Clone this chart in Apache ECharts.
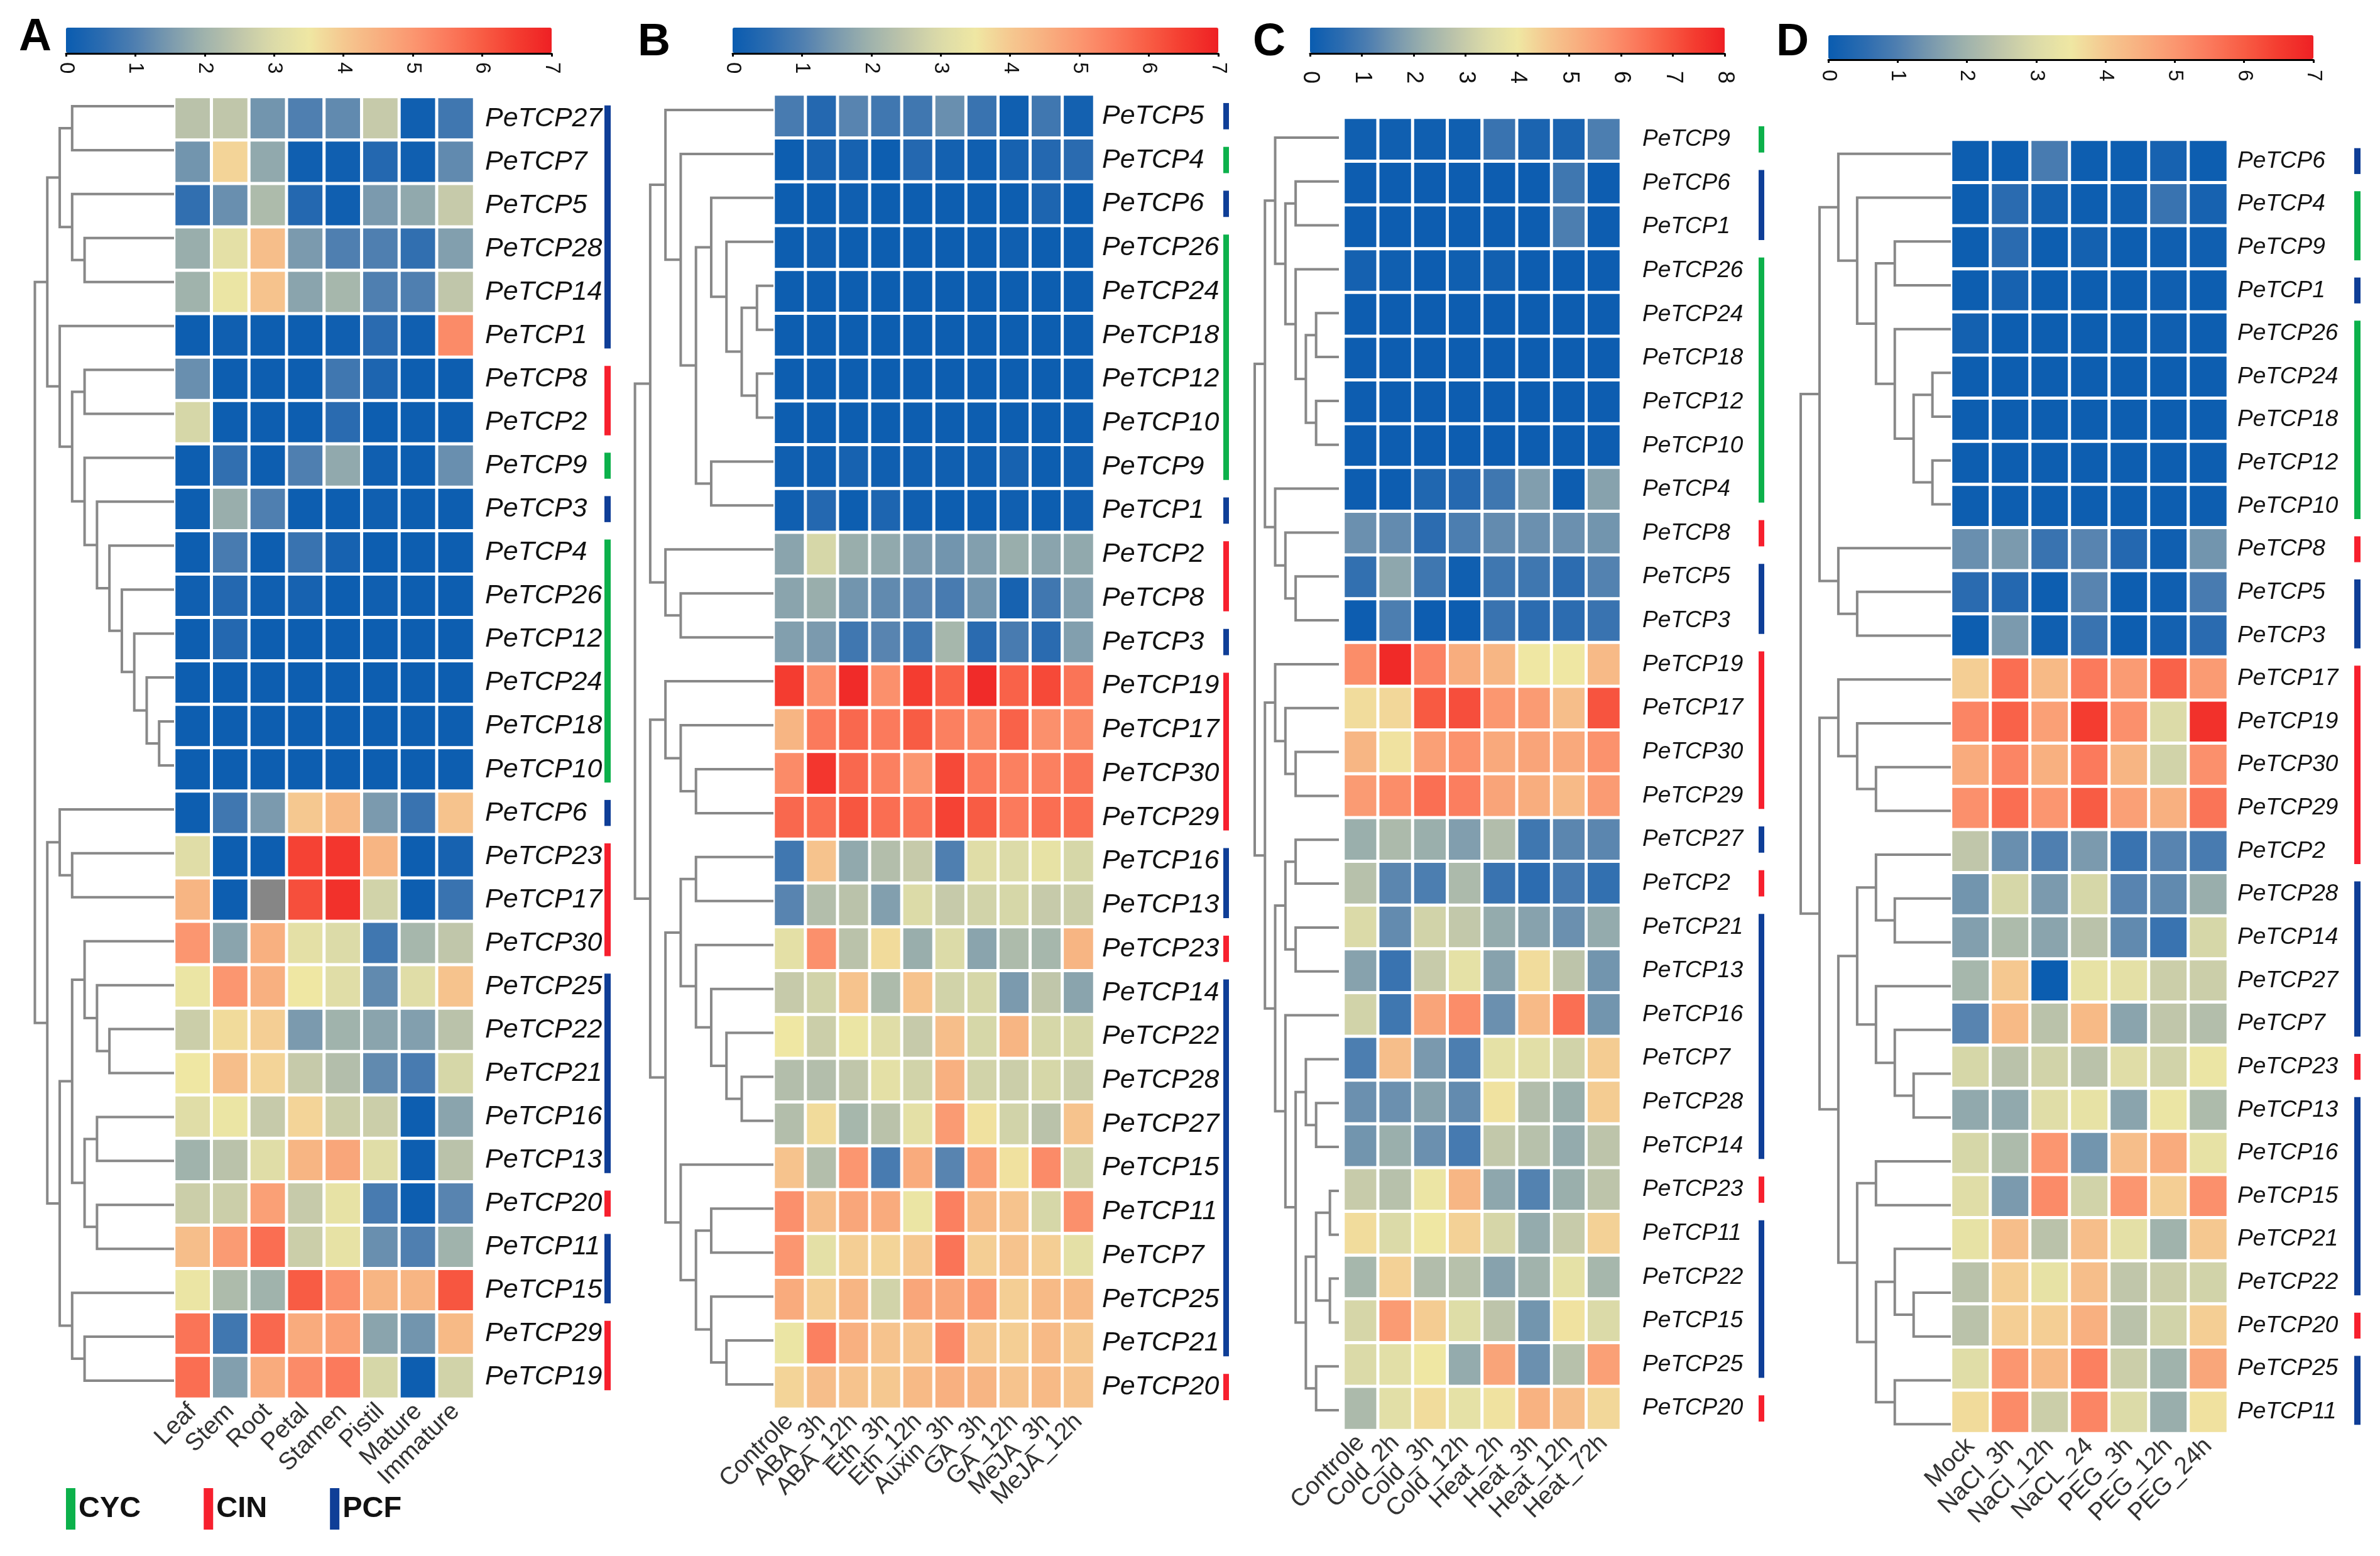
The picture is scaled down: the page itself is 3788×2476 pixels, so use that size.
<!DOCTYPE html>
<html>
<head>
<meta charset="utf-8">
<script src="https://cdn.jsdelivr.net/npm/echarts@6/dist/echarts.min.js"></script>
<style>
html,body{margin:0;padding:0;background:#fff}
#chart{width:3788px;height:2476px}
</style>
</head>
<body>
<div id="chart"></div>
<script>
// gene families (bars right of each heatmap)
var cycGenes = [4, 9, 10, 12, 18, 24, 26];
var cinGenes = [2, 8, 17, 19, 20, 23, 29, 30];
var familyNames = ['CYC', 'CIN', 'PCF'];

// panel A
var colsA = ['Leaf', 'Stem', 'Root', 'Petal', 'Stamen', 'Pistil', 'Mature', 'Immature'];
var rowsA = [27, 7, 5, 28, 14, 1, 8, 2, 9, 3, 4, 26, 12, 24, 18, 10, 6, 23, 17, 30, 25, 22, 21, 16, 13, 20, 11, 15, 29, 19];
var valuesA = [
  [2.4, 2.5, 1.4, 1.0, 1.2, 2.6, 0.1, 0.8],
  [1.4, 3.8, 1.8, 0.1, 0.1, 0.4, 0.1, 1.2],
  [0.6, 1.3, 2.2, 0.4, 0.1, 1.5, 1.8, 2.6],
  [1.9, 3.2, 4.2, 1.5, 1.0, 1.0, 0.6, 1.6],
  [2.0, 3.4, 4.1, 1.7, 2.1, 1.0, 1.0, 2.5],
  [0.05, 0.1, 0.05, 0.05, 0.1, 0.5, 0.1, 5.2],
  [1.3, 0.05, 0.05, 0.05, 0.8, 0.3, 0.05, 0.05],
  [2.9, 0.05, 0.05, 0.05, 0.5, 0.05, 0.05, 0.05],
  [0.05, 0.6, 0.05, 1.0, 1.8, 0.1, 0.05, 1.3],
  [0.05, 1.9, 1.0, 0.05, 0.05, 0.1, 0.05, 0.05],
  [0.05, 0.9, 0.05, 0.7, 0.2, 0.05, 0.05, 0.05],
  [0.1, 0.4, 0.1, 0.2, 0.05, 0.1, 0.05, 0.05],
  [0.05, 0.4, 0.05, 0.05, 0.05, 0.05, 0.05, 0.05],
  [0.05, 0.05, 0.05, 0.05, 0.05, 0.05, 0.05, 0.05],
  [0.05, 0.05, 0.05, 0.05, 0.05, 0.05, 0.05, 0.05],
  [0.05, 0.05, 0.05, 0.05, 0.05, 0.05, 0.05, 0.05],
  [0.05, 0.8, 1.5, 4.0, 4.3, 1.5, 0.7, 4.1],
  [3.1, 0.05, 0.05, 6.4, 6.6, 4.4, 0.05, 0.2],
  [4.4, 0.05, null, 6.2, 6.7, 2.8, 0.05, 0.7],
  [5.0, 1.7, 4.5, 3.2, 3.0, 0.8, 2.1, 2.5],
  [3.4, 5.0, 4.5, 3.5, 3.1, 1.2, 3.1, 4.1],
  [2.7, 3.7, 3.9, 1.5, 2.0, 1.7, 1.6, 2.4],
  [3.5, 4.2, 3.8, 2.6, 2.3, 1.2, 0.9, 2.9],
  [3.1, 3.4, 2.6, 3.8, 2.7, 2.7, 0.05, 1.7],
  [2.0, 2.4, 3.1, 4.4, 4.7, 3.1, 0.05, 2.4],
  [2.7, 2.7, 4.8, 2.6, 3.3, 0.9, 0.05, 1.1],
  [4.2, 4.9, 5.7, 2.7, 3.3, 1.3, 1.0, 2.0],
  [3.4, 2.2, 2.0, 6.0, 5.1, 4.4, 4.4, 6.1],
  [5.6, 0.8, 5.8, 4.6, 4.8, 1.7, 1.4, 4.3],
  [5.7, 1.6, 4.6, 5.2, 5.5, 2.9, 0.05, 2.8]
];
// dendrogram: [merge level, child, child], a plain number is a leaf gene
var treeA = [0,
  [1,
    [2, [3, 27, 7], [3, 5, [4, 28, 14]]],
    [2, 1, [3, [4, 8, 2], [4, 9, [5, 3, [6, 4, [7, 26, [8, 12, [9, 24, [10, 18, 10]]]]]]]]]],
  [1,
    [2, 6, [3, 23, 17]],
    [2, [3, [4, 30, [5, 25, [6, 22, 21]]], [4, [5, 16, 13], [5, 20, 11]]], [3, 15, [4, 29, 19]]]]];

// panel B
var colsB = ['Controle', 'ABA_3h', 'ABA_12h', 'Eth_3h', 'Eth_12h', 'Auxin_3h', 'GA_3h', 'GA_12h', 'MeJA_3h', 'MeJA_12h'];
var rowsB = [5, 4, 6, 26, 24, 18, 12, 10, 9, 1, 2, 8, 3, 19, 17, 30, 29, 16, 13, 23, 14, 22, 28, 27, 15, 11, 7, 25, 21, 20];
var valuesB = [
  [0.9, 0.4, 1.1, 0.8, 0.8, 1.3, 0.7, 0.1, 0.8, 0.15],
  [0.05, 0.2, 0.2, 0.05, 0.4, 0.15, 0.1, 0.2, 0.4, 0.5],
  [0.05, 0.05, 0.1, 0.05, 0.05, 0.05, 0.05, 0.05, 0.3, 0.05],
  [0.05, 0.1, 0.05, 0.05, 0.05, 0.05, 0.05, 0.1, 0.05, 0.05],
  [0.05, 0.05, 0.05, 0.05, 0.05, 0.05, 0.05, 0.05, 0.05, 0.05],
  [0.05, 0.05, 0.05, 0.05, 0.05, 0.05, 0.05, 0.05, 0.05, 0.05],
  [0.05, 0.05, 0.05, 0.05, 0.05, 0.05, 0.05, 0.05, 0.05, 0.05],
  [0.05, 0.05, 0.05, 0.05, 0.05, 0.05, 0.05, 0.05, 0.05, 0.05],
  [0.1, 0.1, 0.2, 0.1, 0.1, 0.1, 0.1, 0.2, 0.05, 0.1],
  [0.1, 0.4, 0.05, 0.3, 0.1, 0.05, 0.05, 0.1, 0.05, 0.1],
  [1.7, 2.9, 1.9, 1.8, 1.5, 1.4, 1.6, 1.9, 1.7, 1.8],
  [1.7, 1.9, 1.4, 1.2, 1.1, 0.9, 1.4, 0.2, 0.8, 1.6],
  [1.6, 1.5, 0.8, 1.1, 0.8, 2.1, 0.5, 0.9, 0.5, 1.6],
  [6.5, 5.1, 6.8, 5.1, 6.5, 5.9, 6.8, 5.9, 6.3, 5.6],
  [4.4, 5.5, 5.8, 5.5, 6.0, 5.4, 5.2, 5.9, 5.1, 5.2],
  [5.2, 6.6, 5.8, 5.4, 5.0, 6.3, 5.5, 5.4, 5.4, 5.6],
  [5.8, 5.7, 6.1, 5.7, 5.6, 6.4, 6.0, 5.5, 5.7, 5.7],
  [0.8, 4.1, 1.8, 2.3, 2.6, 1.0, 3.1, 3.0, 3.3, 2.9],
  [1.1, 2.3, 2.4, 1.6, 3.0, 2.6, 2.8, 2.9, 2.6, 2.7],
  [3.2, 5.1, 2.4, 3.7, 1.9, 3.0, 1.7, 2.2, 2.1, 4.4],
  [2.6, 2.8, 4.1, 2.2, 4.1, 2.8, 2.9, 1.5, 2.5, 1.7],
  [3.5, 2.7, 3.4, 3.1, 2.6, 4.2, 2.9, 4.4, 2.9, 2.9],
  [2.3, 2.3, 2.5, 3.2, 2.8, 4.5, 2.8, 2.7, 2.9, 2.7],
  [2.3, 3.7, 2.1, 2.4, 3.2, 4.9, 3.6, 2.8, 2.4, 4.1],
  [4.1, 2.3, 5.0, 0.9, 4.6, 1.1, 4.8, 3.6, 5.2, 2.8],
  [5.1, 4.2, 4.7, 4.6, 3.4, 5.4, 4.3, 4.1, 2.9, 5.1],
  [5.0, 3.2, 3.9, 3.8, 4.0, 5.6, 3.9, 4.1, 3.9, 3.2],
  [4.6, 3.9, 4.4, 2.8, 4.7, 4.7, 4.9, 3.9, 4.3, 4.3],
  [3.4, 5.4, 4.5, 4.1, 4.1, 5.2, 4.0, 3.9, 4.3, 4.0],
  [3.8, 4.2, 4.1, 4.0, 4.3, 4.5, 4.4, 4.1, 4.3, 4.1]
];
var treeB = [0,
  [1,
    [2, 5, [3, 4, [4, [5, 6, [6, 26, [7, [8, 24, 18], [8, 12, 10]]]], [5, 9, 1]]]],
    [2, 2, [3, 8, 3]]],
  [1,
    [2, 19, [3, 17, [4, 30, 29]]],
    [2,
      [3, [4, 16, 13], [4, 23, [5, 14, [6, 22, [7, 28, 27]]]]],
      [3, 15, [4, [5, 11, 7], [5, 25, [6, 21, 20]]]]]]];

// panel C (scale runs to 8)
var colsC = ['Controle', 'Cold_2h', 'Cold_3h', 'Cold_12h', 'Heat_2h', 'Heat_3h', 'Heat_12h', 'Heat_72h'];
var rowsC = [9, 6, 1, 26, 24, 18, 12, 10, 4, 8, 5, 3, 19, 17, 30, 29, 27, 2, 21, 13, 16, 7, 28, 14, 23, 11, 22, 15, 25, 20];
var valuesC = [
  [0.1, 0.1, 0.1, 0.1, 0.8, 0.3, 0.3, 1.1],
  [0.05, 0.05, 0.05, 0.05, 0.05, 0.05, 0.9, 0.05],
  [0.05, 0.05, 0.05, 0.05, 0.05, 0.05, 1.1, 0.05],
  [0.2, 0.1, 0.05, 0.1, 0.15, 0.05, 0.05, 0.05],
  [0.05, 0.05, 0.05, 0.05, 0.05, 0.05, 0.05, 0.05],
  [0.05, 0.05, 0.05, 0.05, 0.05, 0.05, 0.05, 0.05],
  [0.05, 0.05, 0.05, 0.05, 0.05, 0.05, 0.05, 0.05],
  [0.05, 0.05, 0.05, 0.05, 0.05, 0.05, 0.05, 0.05],
  [0.05, 0.05, 0.4, 0.5, 0.9, 1.8, 0.05, 1.9],
  [1.5, 1.4, 0.6, 1.1, 1.4, 1.5, 1.5, 1.6],
  [0.7, 2.0, 0.9, 0.1, 0.9, 0.9, 0.6, 1.2],
  [0.05, 1.1, 0.05, 0.05, 0.8, 0.6, 0.6, 0.8],
  [5.9, 7.8, 6.1, 5.2, 5.0, 4.0, 4.0, 4.9],
  [4.2, 4.3, 6.9, 7.1, 5.7, 5.6, 4.8, 7.0],
  [5.0, 4.1, 5.5, 5.8, 5.3, 5.4, 5.3, 5.8],
  [5.6, 5.9, 6.5, 6.2, 5.4, 5.2, 4.9, 5.6],
  [2.2, 2.5, 2.2, 1.8, 2.6, 0.9, 1.3, 1.3],
  [2.7, 1.3, 1.1, 2.5, 0.8, 0.6, 1.0, 0.7],
  [3.4, 1.4, 3.2, 2.9, 2.1, 1.9, 1.5, 2.1],
  [1.9, 0.8, 3.0, 3.7, 1.9, 4.2, 2.8, 1.6],
  [3.2, 0.9, 5.4, 5.9, 1.5, 4.9, 6.5, 1.6],
  [1.1, 4.8, 1.7, 1.1, 3.7, 3.6, 3.2, 4.5],
  [1.5, 1.5, 1.9, 1.4, 4.1, 2.6, 2.2, 4.5],
  [1.6, 2.2, 1.5, 1.0, 2.9, 2.7, 2.1, 2.8],
  [3.0, 2.7, 3.9, 5.0, 2.0, 1.2, 2.2, 2.8],
  [4.2, 3.4, 4.0, 4.4, 3.3, 2.1, 3.0, 4.4],
  [2.4, 4.4, 2.6, 2.7, 1.9, 2.3, 3.7, 2.4],
  [3.3, 5.6, 4.5, 3.5, 2.8, 1.6, 4.1, 3.4],
  [3.4, 3.6, 4.0, 2.1, 5.4, 1.5, 2.7, 5.5],
  [2.5, 3.6, 4.2, 3.7, 4.1, 5.1, 4.8, 4.3]
];
var treeC = [0,
  [1,
    [2, 9, [3, [4, 6, 1], [4, 26, [5, [6, 24, 18], [6, 12, 10]]]]],
    [2, 4, [3, 8, [4, 5, 3]]]],
  [1,
    [2, 19, [3, 17, [4, 30, 29]]],
    [2,
      [3, [4, 27, 2], [4, 21, 13]],
      [3, 16, [4, [5, 7, [6, 28, 14]], [5, [6, [7.35, 23, 11], [7.35, 22, 15]], [6, 25, 20]]]]]]];

// panel D
var colsD = ['Mock', 'NaCl_3h', 'NaCl_12h', 'NaCL_24', 'PEG_3h', 'PEG_12h', 'PEG_24h'];
var rowsD = [6, 4, 9, 1, 26, 24, 18, 12, 10, 8, 5, 3, 17, 19, 30, 29, 2, 28, 14, 27, 7, 23, 13, 16, 15, 21, 22, 20, 25, 11];
var valuesD = [
  [0.05, 0.05, 0.9, 0.05, 0.05, 0.2, 0.05],
  [0.05, 0.5, 0.15, 0.05, 0.1, 0.7, 0.2],
  [0.05, 0.5, 0.05, 0.15, 0.05, 0.1, 0.1],
  [0.05, 0.2, 0.05, 0.05, 0.05, 0.1, 0.05],
  [0.15, 0.05, 0.05, 0.05, 0.05, 0.1, 0.05],
  [0.05, 0.05, 0.05, 0.05, 0.05, 0.05, 0.05],
  [0.05, 0.05, 0.05, 0.05, 0.05, 0.05, 0.05],
  [0.05, 0.05, 0.05, 0.05, 0.05, 0.05, 0.05],
  [0.05, 0.05, 0.05, 0.05, 0.05, 0.05, 0.05],
  [1.3, 1.5, 0.7, 1.1, 0.4, 0.1, 1.4],
  [0.5, 0.4, 0.05, 1.1, 0.05, 0.1, 0.9],
  [0.05, 1.5, 0.1, 0.7, 0.05, 0.15, 0.5],
  [3.9, 5.7, 4.3, 5.5, 4.9, 5.9, 4.9],
  [5.3, 5.9, 4.8, 6.5, 5.1, 3.0, 6.7],
  [4.6, 5.3, 4.5, 5.5, 4.4, 2.8, 5.1],
  [5.1, 5.7, 5.0, 6.0, 4.8, 4.5, 5.6],
  [2.5, 1.3, 1.0, 1.5, 0.7, 1.1, 0.9],
  [1.4, 2.9, 1.5, 2.9, 1.1, 1.2, 1.9],
  [1.6, 2.2, 1.7, 2.4, 1.2, 0.7, 2.9],
  [2.1, 4.0, 0.02, 3.3, 3.2, 2.7, 2.7],
  [1.1, 4.3, 2.4, 4.3, 1.7, 2.5, 2.3],
  [2.9, 2.4, 2.8, 2.4, 3.1, 2.8, 3.4],
  [1.8, 1.8, 3.1, 3.3, 1.7, 3.4, 2.2],
  [2.9, 2.2, 5.0, 1.4, 4.2, 4.6, 3.3],
  [3.1, 1.5, 5.2, 2.8, 5.0, 3.9, 5.1],
  [3.3, 4.2, 2.4, 4.2, 3.2, 2.0, 4.0],
  [2.4, 3.9, 3.3, 4.2, 2.5, 2.7, 2.8],
  [2.4, 3.9, 3.9, 4.5, 2.4, 2.8, 3.9],
  [3.1, 5.0, 4.3, 5.4, 2.7, 2.0, 4.7],
  [3.7, 5.2, 2.7, 5.3, 3.0, 1.9, 3.6]
];
var treeD = [0,
  [1,
    [2, 6, [3, 4, [4, [5, 9, 1], [5, 26, [6, [7, 24, 18], [7, 12, 10]]]]]],
    [2, 8, [3, 5, 3]]],
  [1,
    [2, 17, [3, 19, [4, 30, 29]]],
    [2,
      [3, [4, 2, [5, 28, 14]], [4, 27, [5, 7, [6, 23, 13]]]],
      [3, [4, 16, 15], [4, [5, 21, [6, 22, 20]], [5, 25, 11]]]]]];

var heatColors = ['#0a5cb0', '#2a6bb0', '#4f7fb0', '#7b9aae', '#a0b3ac', '#c0c6aa', '#dcdba8', '#efe7a3',
  '#f5c890', '#f8b080', '#fb9670', '#fb7a5c', '#f85c44', '#f43c30', '#ee2024'];
var familyColors = {CYC: '#0cb14b', CIN: '#f7202e', PCF: '#0f3e97'};
var font = '"Liberation Sans", Arial, sans-serif';

// layout per panel, pixels
var panels = [
  {letter: 'A', letterX: 30, letterY: 24, cols: colsA, rows: rowsA, values: valuesA, tree: treeA, max: 7,
    heat: [277, 154, 478, 2072], labelGap: 17, labelSize: 43,
    treeBox: [55.5, 134, 221.5, 2098], treeMax: 11.2,
    famBox: [962, 10], bar: [105, 44, 773, 40], tickGap: 14, tickSize: 33},
  {letter: 'B', letterX: 1015, letterY: 32, cols: colsB, rows: rowsB, values: valuesB, tree: treeB, max: 7,
    heat: [1231, 150, 511, 2092], labelGap: 12, labelSize: 43,
    treeBox: [1010.6, 140, 220.4, 2098], treeMax: 9.08,
    famBox: [1947, 9], bar: [1166, 44, 773, 40], tickGap: 14, tickSize: 33},
  {letter: 'C', letterX: 1994, letterY: 32, cols: colsC, rows: rowsC, values: valuesC, tree: treeC, max: 8,
    heat: [2138, 187, 442, 2089], labelGap: 34, labelSize: 37,
    treeBox: [1997, 184, 134, 2095], treeMax: 8.23,
    famBox: [2799, 9], bar: [2085, 44, 660, 40], tickGap: 28, tickSize: 36},
  {letter: 'D', letterX: 2827, letterY: 32, cols: colsD, rows: rowsD, values: valuesD, tree: treeD, max: 7,
    heat: [3105, 222, 441, 2059], labelGap: 15, labelSize: 37,
    treeBox: [2866, 210, 239, 2091], treeMax: 7.98,
    famBox: [3747, 10], bar: [2910, 56, 772, 38], tickGap: 16, tickSize: 33}
];

function familyOf(gene) {
  if (cycGenes.indexOf(gene) >= 0) return 'CYC';
  if (cinGenes.indexOf(gene) >= 0) return 'CIN';
  return 'PCF';
}

// walk a tree, collecting one [levelA, yA, level, yB, levelB] bracket per merge
function collectBrackets(node, rows, leafLevel, out) {
  if (typeof node === 'number') return {level: leafLevel, y: rows.indexOf(node) + 0.5};
  var a = collectBrackets(node[1], rows, leafLevel, out);
  var b = collectBrackets(node[2], rows, leafLevel, out);
  out.push([a.level, a.y, node[0], b.y, b.level]);
  return {level: node[0], y: (a.y + b.y) / 2};
}

// runs of neighbouring rows from the same family
function familyRuns(rows, name) {
  var runs = [], start = null;
  for (var i = 0; i <= rows.length; i++) {
    var same = i < rows.length && familyOf(rows[i]) === name;
    if (same && start === null) start = i;
    if (!same && start !== null) { runs.push([start + 0.2, i - 0.2]); start = null; }
  }
  return runs;
}

function renderBracket(params, api) {
  var p = [
    api.coord([api.value(0), api.value(1)]),
    api.coord([api.value(2), api.value(1)]),
    api.coord([api.value(2), api.value(3)]),
    api.coord([api.value(4), api.value(3)])
  ];
  return {type: 'polyline', silent: true, shape: {points: p},
    style: {fill: 'none', stroke: '#888888', lineWidth: 4}};
}

function renderFamily(params, api) {
  var a = api.coord([0, api.value(0)]);
  var b = api.coord([1, api.value(1)]);
  return {type: 'rect', silent: true, shape: {x: a[0], y: a[1], width: b[0] - a[0], height: b[1] - a[1]},
    style: api.style()};
}

var grids = [], xAxes = [], yAxes = [], series = [], visualMaps = [], titles = [];

function addGrid(box, xAxis, yAxis) {
  var i = grids.length;
  grids.push({left: box[0], top: box[1], width: box[2], height: box[3], containLabel: false});
  xAxis.gridIndex = i; yAxis.gridIndex = i;
  xAxes.push(xAxis); yAxes.push(yAxis);
  return i;
}

panels.forEach(function (pn) {
  titles.push({text: pn.letter, left: pn.letterX, top: pn.letterY, padding: 0,
    textStyle: {fontFamily: font, fontSize: 72, fontWeight: 'bold', color: '#000'}});

  // heatmap
  var labels = pn.rows.map(function (g) { return 'PeTCP' + g; });
  var hi = addGrid(pn.heat, {
    type: 'category', data: pn.cols, axisLine: {show: false}, axisTick: {show: false}, splitLine: {show: false},
    axisLabel: {rotate: 45, interval: 0, margin: 14, fontFamily: font, fontSize: 39, color: '#333'}
  }, {
    type: 'category', data: labels, inverse: true, position: 'right', axisLine: {show: false}, axisTick: {show: false}, splitLine: {show: false},
    axisLabel: {interval: 0, margin: pn.labelGap, fontFamily: font, fontStyle: 'italic', fontSize: pn.labelSize, color: '#111'}
  });
  var cells = [], missing = [];
  pn.values.forEach(function (row, r) {
    row.forEach(function (v, c) {
      if (v === null) missing.push([c, r, 0]); else cells.push([c, r, v]);
    });
  });
  visualMaps.push({
    type: 'continuous', seriesIndex: series.length, min: 0, max: pn.max, orient: 'horizontal',
    left: pn.bar[0], top: pn.bar[1], itemHeight: pn.bar[2], itemWidth: pn.bar[3], padding: 0,
    calculable: false, hoverLink: false, text: null, inRange: {color: heatColors}
  });
  series.push({type: 'heatmap', xAxisIndex: hi, yAxisIndex: hi, data: cells, silent: true,
    itemStyle: {borderColor: '#fff', borderWidth: 5}});
  if (missing.length) {
    series.push({type: 'heatmap', xAxisIndex: hi, yAxisIndex: hi, data: missing, silent: true,
      itemStyle: {color: '#868686', borderColor: '#fff', borderWidth: 5}});
  }

  // dendrogram
  var brackets = [];
  collectBrackets(pn.tree, pn.rows, pn.treeMax, brackets);
  var ti = addGrid(pn.treeBox,
    {type: 'value', show: false, min: 0, max: pn.treeMax},
    {type: 'value', show: false, min: 0, max: pn.rows.length, inverse: true});
  series.push({type: 'custom', xAxisIndex: ti, yAxisIndex: ti, data: brackets, clip: false, silent: true,
    renderItem: renderBracket, encode: {x: [0, 2, 4], y: [1, 3]}});

  // family bars
  var fi = addGrid([pn.famBox[0], pn.heat[1], pn.famBox[1], pn.heat[3]],
    {type: 'value', show: false, min: 0, max: 1},
    {type: 'value', show: false, min: 0, max: pn.rows.length, inverse: true});
  familyNames.forEach(function (name) {
    series.push({type: 'custom', name: name, xAxisIndex: fi, yAxisIndex: fi, data: familyRuns(pn.rows, name), silent: true,
      itemStyle: {color: familyColors[name]}, renderItem: renderFamily, encode: {y: [0, 1]}});
  });

  // axis under the colour bar
  addGrid([pn.bar[0], pn.bar[1] + pn.bar[3], pn.bar[2], 1], {
    type: 'value', min: 0, max: pn.max, interval: 1, splitLine: {show: false},
    axisLine: {show: true, onZero: false, lineStyle: {color: '#000', width: 3}},
    axisTick: {show: true, length: 5, lineStyle: {color: '#000', width: 3}},
    axisLabel: {rotate: -90, margin: pn.tickGap, fontFamily: font, fontSize: pn.tickSize, color: '#111',
      showMinLabel: true, showMaxLabel: true}
  }, {type: 'value', show: false});
});

var chart = echarts.init(document.getElementById('chart'));
chart.setOption({
  animation: false,
  backgroundColor: '#fff',
  title: titles,
  legend: {
    data: familyNames, left: 105, top: 2368, icon: 'rect', itemWidth: 15, itemHeight: 66, itemGap: 100,
    selectedMode: false, padding: 0,
    textStyle: {fontFamily: font, fontSize: 47, fontWeight: 'bold', color: '#111'}
  },
  grid: grids,
  xAxis: xAxes,
  yAxis: yAxes,
  visualMap: visualMaps,
  series: series
});
</script>
</body>
</html>
